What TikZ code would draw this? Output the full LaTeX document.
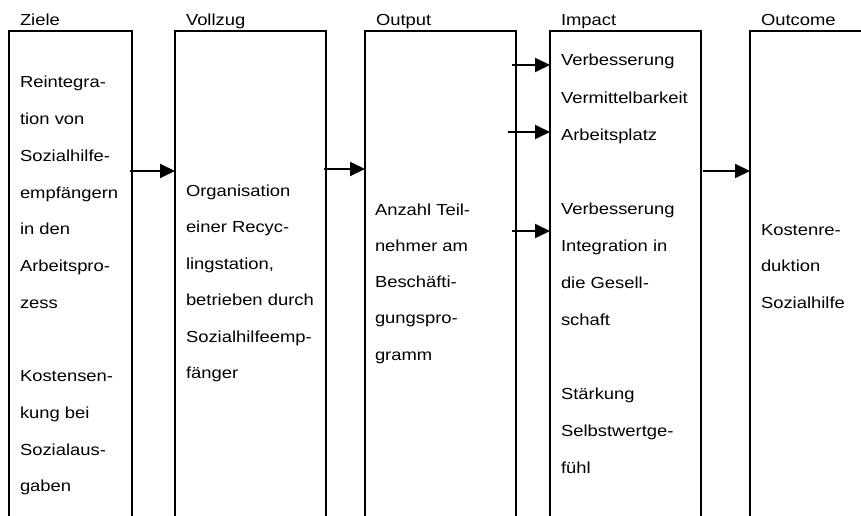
\documentclass[tikz,border=0pt]{standalone}
\usepackage{fontspec}
\setmainfont{Liberation Sans}[FakeStretch=1.15]
\usetikzlibrary{arrows.meta}

\begin{document}
\begin{tikzpicture}[x=1pt, y=-1pt, line width=2pt, font=\fontsize{16}{20}\selectfont,
  >={Triangle[length=15pt,width=14pt]},
  col/.style={draw, anchor=north west, inner sep=0pt, outer sep=0pt, minimum width=151pt, minimum height=520pt},
  hd/.style={anchor=base west, inner sep=0pt},
  txt/.style={anchor=base west, inner sep=0pt}]
\useasboundingbox (0,0) rectangle (861,516);
\clip (0,0) rectangle (861,516);
% columns, open at the bottom
\node[col, minimum width=123pt] (ziele) at (9,31) {};
\node[col] (vollzug) at (175,31) {};
\node[col] (output) at (365,31) {};
\node[col] (impact) at (550,31) {};
\node[col] (outcome) at (750,31) {};
% headings
\node[hd] (hziele) at (19,25.5) {Ziele};
\node[hd] (hvollzug) at (185,25.5) {Vollzug};
\node[hd] (houtput) at (375,25.5) {Output};
\node[hd] (himpact) at (560,25.5) {Impact};
\node[hd] (houtcome) at (760,25.5) {Outcome};
% column texts
\foreach \t [count=\i from 0] in {Reintegra-, tion von, Sozialhilfe-, empfängern, in den, Arbeitspro-, zess}
  \node[txt] (z\i) at (19, 88+36.7*\i) {\t};
\foreach \t [count=\i from 8] in {Kostensen-, kung bei, Sozialaus-, gaben}
  \node[txt] (z\i) at (19, 88+36.7*\i) {\t};
\foreach \t [count=\i from 0] in {Organisation, einer Recyc-, {lingstation,}, betrieben durch, Sozialhilfeemp-, fänger}
  \node[txt] (v\i) at (185, 196+36.5*\i) {\t};
\foreach \t [count=\i from 0] in {Anzahl Teil-, nehmer am, Beschäfti-, gungspro-, gramm}
  \node[txt] (o\i) at (374, 215+36.3*\i) {\t};
\foreach \t [count=\i from 0] in {Verbesserung, Vermittelbarkeit, Arbeitsplatz}
  \node[txt] (i\i) at (560, 66+37*\i) {\t};
\foreach \t [count=\i from 4] in {Verbesserung, Integration in, die Gesell-, schaft}
  \node[txt] (i\i) at (560, 66+37*\i) {\t};
\foreach \t [count=\i from 9] in {Stärkung, Selbstwertge-, fühl}
  \node[txt] (i\i) at (560, 66+37*\i) {\t};
\foreach \t [count=\i from 0] in {Kostenre-, duktion, Sozialhilfe}
  \node[txt] (c\i) at (760, 235+36.5*\i) {\t};
% arrows
\coordinate (a1) at (130,171);
\coordinate (a2) at (324,169);
\coordinate (a3) at (512,65);
\coordinate (a4) at (508,132);
\coordinate (a5) at (512,231);
\coordinate (a6) at (703,171);
\draw[->] (a1) -- (a1 -| vollzug.west);
\draw[->] (a2) -- (a2 -| output.west);
\draw[->] (a3) -- (a3 -| impact.west);
\draw[->] (a4) -- (a4 -| impact.west);
\draw[->] (a5) -- (a5 -| impact.west);
\draw[->] (a6) -- (a6 -| outcome.west);
\end{tikzpicture}
\end{document}
